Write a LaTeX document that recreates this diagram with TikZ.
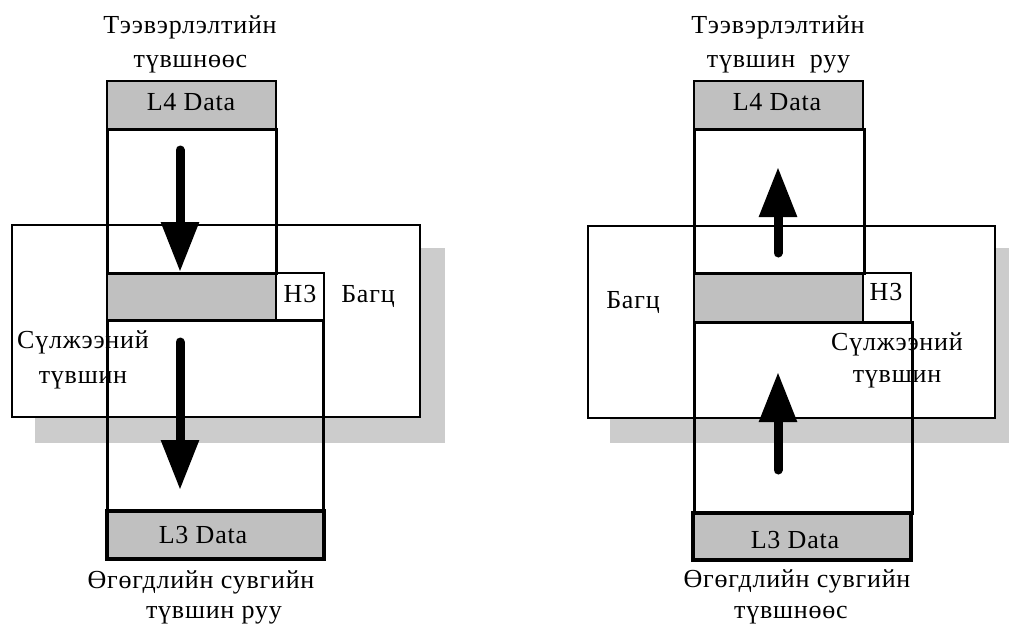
\documentclass[tikz,border=0pt]{standalone}
\usepackage{fontspec}
\setmainfont{Liberation Serif}
\newfontfamily\lblfont{Liberation Serif}[LetterSpace=3]
\usetikzlibrary{arrows.meta}
\definecolor{boxgray}{HTML}{C0C0C0}
\definecolor{shadowgray}{HTML}{CCCCCC}
\tikzset{
  every node/.style={inner sep=0pt, outer sep=0pt},
  lbl/.style={font=\lblfont\fontsize{26}{30}\selectfont, anchor=base},
  shadowbox/.style={rectangle, fill=shadowgray},
  packetbox/.style={rectangle, draw=black, fill=white, line width=1.6pt},
  graybox/.style={rectangle, draw=black, fill=boxgray, line width=1.8pt},
  hdrbox/.style={rectangle, draw=black, fill=white, line width=1.6pt},
  framebox/.style={rectangle, draw=black, line width=3pt},
  l3box/.style={rectangle, draw=black, fill=boxgray, line width=3.4pt},
  bigarrow/.style={line width=9pt, line cap=round, -{Triangle[width=36pt,length=50pt]}},
}
\begin{document}
\begin{tikzpicture}[x=1pt,y=-1pt]
\useasboundingbox (0,0) rectangle (1009,625);
% ---------------- left: sending ----------------
\node[shadowbox, minimum width=410pt, minimum height=195pt] (shadowL) at (240,345.5) {};
\node[packetbox, minimum width=408pt, minimum height=192pt] (packL) at (216,321) {};
\node[graybox, minimum width=169pt, minimum height=48pt] (l4L) at (191.5,105) {};
\node[graybox, minimum width=169pt, minimum height=47pt] (barL) at (191.5,296.5) {};
\node[hdrbox, minimum width=48pt, minimum height=47pt] (h3L) at (300,296.5) {};
\node[framebox, minimum width=169pt, minimum height=144pt] (upL) at (191.5,201) {};
\node[framebox, minimum width=216pt, minimum height=191pt] (lowL) at (215,415.5) {};
\node[l3box, minimum width=217pt, minimum height=48pt] (l3L) at (215.5,535) {};

\node[lbl] (t1L) at (190,33) {Тээвэрлэлтийн};
\node[lbl] (t2L) at (190.5,67) {түвшнөөс};
\node[lbl] (d4L) at (191,110) {L4 Data};
\node[lbl] (hL) at (300,302) {H3};
\node[lbl] (pL) at (368,302) {Багц};
\node[lbl] (n1L) at (83,348) {Сүлжээний};
\node[lbl] (n2L) at (83,383) {түвшин};
\node[lbl] (d3L) at (203,543) {L3 Data};
\node[lbl] (b1L) at (201,588) {Өгөгдлийн сувгийн};
\node[lbl] (b2L) at (214,618) {түвшин руу};

\coordinate (aL1s) at (180,150);
\coordinate (aL1e) at (180,272);
\coordinate (aL2s) at (180,342);
\coordinate (aL2e) at (180,490);
\draw[bigarrow] (aL1s) -- (aL1e);
\draw[bigarrow] (aL2s) -- (aL2e);

% ---------------- right: receiving ----------------
\node[shadowbox, minimum width=399pt, minimum height=195pt] (shadowR) at (809.5,345.5) {};
\node[packetbox, minimum width=407pt, minimum height=192pt] (packR) at (791.5,322) {};
\node[graybox, minimum width=169pt, minimum height=48pt] (l4R) at (778.5,105) {};
\node[graybox, minimum width=169pt, minimum height=49pt] (barR) at (778.5,297.5) {};
\node[hdrbox, minimum width=48pt, minimum height=49pt] (h3R) at (887,297.5) {};
\node[framebox, minimum width=170pt, minimum height=144pt] (upR) at (779,201) {};
\node[framebox, minimum width=218pt, minimum height=191pt] (lowR) at (803,417.5) {};
\node[l3box, minimum width=218pt, minimum height=47pt] (l3R) at (802,536.5) {};

\node[lbl] (t1R) at (778,33) {Тээвэрлэлтийн};
\node[lbl] (t2R) at (778.5,67) {түвшин\ \ руу};
\node[lbl] (d4R) at (777,110) {L4 Data};
\node[lbl] (hR) at (886,300) {H3};
\node[lbl] (pR) at (633,308) {Багц};
\node[lbl] (n1R) at (897,350) {Сүлжээний};
\node[lbl] (n2R) at (897,382) {түвшин};
\node[lbl] (d3R) at (795,548) {L3 Data};
\node[lbl] (b1R) at (797,587) {Өгөгдлийн сувгийн};
\node[lbl] (b2R) at (791,618) {түвшнөөс};

\coordinate (aR1s) at (778,253);
\coordinate (aR1e) at (778,167);
\coordinate (aR2s) at (778,470);
\coordinate (aR2e) at (778,372);
\draw[bigarrow] (aR1s) -- (aR1e);
\draw[bigarrow] (aR2s) -- (aR2e);
\end{tikzpicture}
\end{document}
